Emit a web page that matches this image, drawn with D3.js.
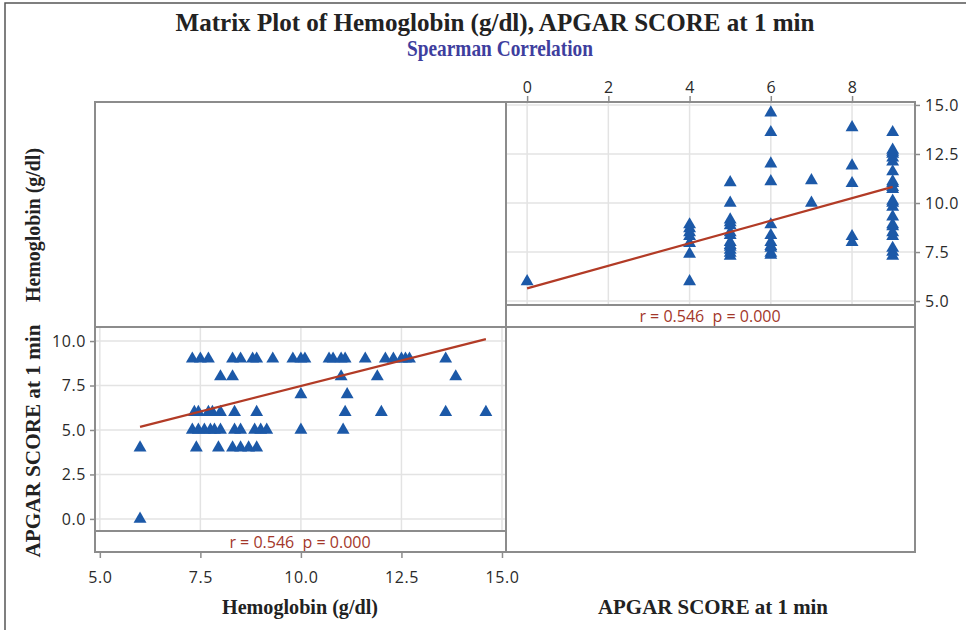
<!DOCTYPE html>
<html>
<head>
<meta charset="utf-8">
<script src="https://cdn.jsdelivr.net/npm/d3@7"></script>
<style>
  body { margin: 0; background: #fff; }
  .tick text { font-family: "Open Sans", sans-serif; font-size: 16px; fill: #2a2a2a; letter-spacing: 0.6px; }
  .tick line { stroke: #8c8c8c; stroke-width: 1.5; }
  .grid line { stroke: #e3e3e3; stroke-width: 1.5; }
  .frame { fill: none; stroke: #8c8c8c; stroke-width: 2; }
  .corr { font-family: "Open Sans", sans-serif; font-size: 16px; fill: #a3372a; white-space: pre; }
  .title { font-family: "Liberation Serif", serif; font-weight: bold; fill: #222; }
</style>
</head>
<body>
<script>
// APGAR score groups and the hemoglobin values (g/dl) read for each group
var apgarScores = [0, 4, 5, 6, 7, 8, 9];
var hemoglobinByScore = [
  [6.0],
  [6.0, 7.4, 7.95, 8.3, 8.5, 8.7, 8.9],
  [7.3, 7.45, 7.6, 7.75, 7.85, 8.0, 8.35, 8.5, 8.85, 9.0, 9.15, 10.0, 11.05],
  [7.35, 7.45, 7.7, 7.8, 8.0, 8.35, 8.9, 11.1, 12.0, 13.6, 14.6],
  [10.0, 11.15],
  [8.0, 8.3, 11.0, 11.9, 13.85],
  [7.3, 7.5, 7.7, 8.3, 8.5, 8.8, 8.9, 9.3, 9.8, 10.0, 10.1, 10.7, 10.8, 11.0, 11.1,
   11.6, 12.1, 12.3, 12.5, 12.6, 12.7, 13.6]
];

var apgarTicks = [0, 2, 4, 6, 8];
var apgarLeftTicks = [0, 2.5, 5, 7.5, 10];
var hemoglobinTicks = [5, 7.5, 10, 12.5, 15];

// fitted lines: [intercept, slope]
var fitHbOnApgar = [5.65, 0.575];
var fitApgarOnHb = [1.73, 0.574];
var corrLabel = "r = 0.546  p = 0.000";

var points = [];
apgarScores.forEach(function(s, i) {
  hemoglobinByScore[i].forEach(function(h) {
    points.push({ apgar: s, hb: h });
  });
});

var svg = d3.select("body").append("svg")
  .attr("width", 966)
  .attr("height", 630);

// outer picture frame (left and top edge)
svg.append("path")
  .attr("d", "M5,630 V3 H966")
  .attr("fill", "none")
  .attr("stroke", "#555")
  .attr("stroke-width", 1.5);

// ---------- scales ----------
var xApgar = d3.scaleLinear().domain([-0.52, 9.55]).range([506, 915]);
var yHb = d3.scaleLinear().domain([4.8, 15.15]).range([305, 102]);
var xHb = d3.scaleLinear().domain([4.88, 15.1]).range([95, 506]);
var yApgar = d3.scaleLinear().domain([-0.68, 10.79]).range([531, 327]);

var symbol = d3.symbol().type(d3.symbolTriangle).size(72);

// ---------- top right panel : APGAR (x) vs Hemoglobin (y) ----------
var gridTR = svg.append("g").attr("class", "grid");
gridTR.selectAll(".v").data(apgarTicks).enter().append("line")
  .attr("x1", function(d) { return xApgar(d); })
  .attr("x2", function(d) { return xApgar(d); })
  .attr("y1", 102).attr("y2", 305);
gridTR.selectAll(".h").data(hemoglobinTicks).enter().append("line")
  .attr("x1", 506).attr("x2", 915)
  .attr("y1", function(d) { return yHb(d); })
  .attr("y2", function(d) { return yHb(d); });

svg.append("g").selectAll("path").data(points).enter().append("path")
  .attr("d", symbol)
  .attr("fill", "#1c59a8")
  .attr("transform", function(d) {
    return "translate(" + xApgar(d.apgar) + "," + yHb(d.hb) + ")";
  });

var apgarExtent = d3.extent(points, function(d) { return d.apgar; });
svg.append("line")
  .attr("x1", xApgar(apgarExtent[0]))
  .attr("y1", yHb(fitHbOnApgar[0] + fitHbOnApgar[1] * apgarExtent[0]))
  .attr("x2", xApgar(apgarExtent[1]))
  .attr("y2", yHb(fitHbOnApgar[0] + fitHbOnApgar[1] * apgarExtent[1]))
  .attr("stroke", "#b23b26")
  .attr("stroke-width", 2.2);

svg.append("g")
  .attr("transform", "translate(0,102)")
  .call(d3.axisTop(xApgar).tickValues(apgarTicks).tickFormat(d3.format("d"))
    .tickSize(6).tickPadding(3))
  .call(function(g) { g.select(".domain").remove(); });

svg.append("g")
  .attr("transform", "translate(915,0)")
  .call(d3.axisRight(yHb).tickValues(hemoglobinTicks).tickFormat(d3.format(".1f"))
    .tickSize(5).tickPadding(5))
  .call(function(g) { g.select(".domain").remove(); });

svg.append("text")
  .attr("class", "corr")
  .attr("x", 710).attr("y", 316)
  .attr("dy", "0.35em")
  .attr("text-anchor", "middle")
  .text(corrLabel);

// ---------- bottom left panel : Hemoglobin (x) vs APGAR (y) ----------
var gridBL = svg.append("g").attr("class", "grid");
gridBL.selectAll(".v").data(hemoglobinTicks).enter().append("line")
  .attr("x1", function(d) { return xHb(d); })
  .attr("x2", function(d) { return xHb(d); })
  .attr("y1", 327).attr("y2", 531);
gridBL.selectAll(".h").data(apgarLeftTicks).enter().append("line")
  .attr("x1", 95).attr("x2", 506)
  .attr("y1", function(d) { return yApgar(d); })
  .attr("y2", function(d) { return yApgar(d); });

svg.append("g").selectAll("path").data(points).enter().append("path")
  .attr("d", symbol)
  .attr("fill", "#1c59a8")
  .attr("transform", function(d) {
    return "translate(" + xHb(d.hb) + "," + yApgar(d.apgar) + ")";
  });

var hbExtent = d3.extent(points, function(d) { return d.hb; });
svg.append("line")
  .attr("x1", xHb(hbExtent[0]))
  .attr("y1", yApgar(fitApgarOnHb[0] + fitApgarOnHb[1] * hbExtent[0]))
  .attr("x2", xHb(hbExtent[1]))
  .attr("y2", yApgar(fitApgarOnHb[0] + fitApgarOnHb[1] * hbExtent[1]))
  .attr("stroke", "#b23b26")
  .attr("stroke-width", 2.2);

svg.append("g")
  .attr("transform", "translate(0,552)")
  .call(d3.axisBottom(xHb).tickValues(hemoglobinTicks).tickFormat(d3.format(".1f"))
    .tickSize(6))
  .call(function(g) {
    g.select(".domain").remove();
    g.selectAll(".tick text").attr("y", 25).attr("dy", "0.35em");
  });

svg.append("g")
  .attr("transform", "translate(95,0)")
  .call(d3.axisLeft(yApgar).tickValues(apgarLeftTicks).tickFormat(d3.format(".1f"))
    .tickSize(5).tickPadding(4))
  .call(function(g) { g.select(".domain").remove(); });

svg.append("text")
  .attr("class", "corr")
  .attr("x", 300).attr("y", 542)
  .attr("dy", "0.35em")
  .attr("text-anchor", "middle")
  .text(corrLabel);

// ---------- matrix frame ----------
svg.append("rect").attr("class", "frame")
  .attr("x", 95).attr("y", 102).attr("width", 820).attr("height", 450);
svg.append("line").attr("class", "frame")
  .attr("x1", 506).attr("x2", 506).attr("y1", 102).attr("y2", 552);
svg.append("line").attr("class", "frame")
  .attr("x1", 95).attr("x2", 915).attr("y1", 327).attr("y2", 327);
svg.append("line").attr("class", "frame")
  .attr("x1", 506).attr("x2", 915).attr("y1", 305).attr("y2", 305);
svg.append("line").attr("class", "frame")
  .attr("x1", 95).attr("x2", 506).attr("y1", 531).attr("y2", 531);

// ---------- titles ----------
svg.append("text").attr("class", "title")
  .attr("x", 495).attr("y", 31)
  .attr("text-anchor", "middle")
  .attr("font-size", 25)
  .attr("textLength", 639).attr("lengthAdjust", "spacingAndGlyphs")
  .text("Matrix Plot of Hemoglobin (g/dl), APGAR SCORE at 1 min");

svg.append("text").attr("class", "title")
  .attr("x", 500).attr("y", 56)
  .attr("text-anchor", "middle")
  .attr("font-size", 23)
  .style("fill", "#3e3e9e")
  .attr("textLength", 186).attr("lengthAdjust", "spacingAndGlyphs")
  .text("Spearman Correlation");

var axisTitles = [
  { text: "Hemoglobin (g/dl)", x: 300, y: 614, rot: 0, len: 156 },
  { text: "APGAR SCORE at 1 min", x: 713, y: 614, rot: 0, len: 230 },
  { text: "Hemoglobin (g/dl)", x: 40, y: 225, rot: -90, len: 154 },
  { text: "APGAR SCORE at 1 min", x: 40, y: 441, rot: -90, len: 233 }
];

svg.selectAll(".axistitle").data(axisTitles).enter().append("text")
  .attr("class", "title axistitle")
  .attr("text-anchor", "middle")
  .attr("font-size", 22)
  .attr("textLength", function(d) { return d.len; })
  .attr("lengthAdjust", "spacingAndGlyphs")
  .attr("transform", function(d) {
    return "translate(" + d.x + "," + d.y + ") rotate(" + d.rot + ")";
  })
  .text(function(d) { return d.text; });
</script>
</body>
</html>
